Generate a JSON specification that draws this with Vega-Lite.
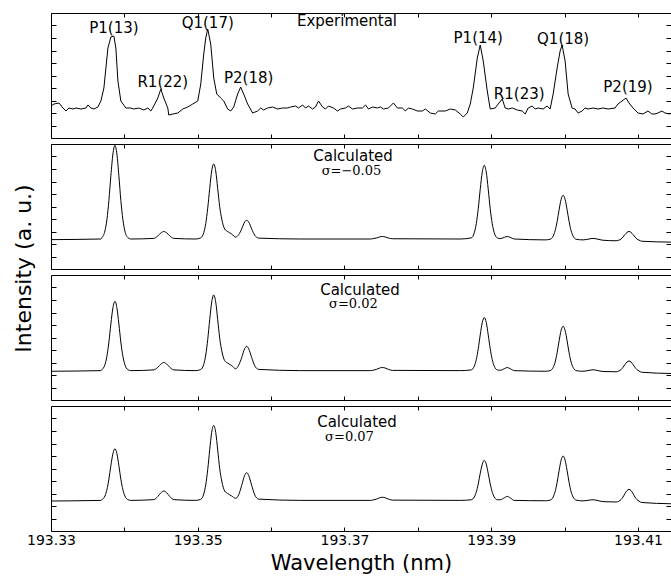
{
  "$schema": "https://vega.github.io/schema/vega-lite/v6.json",
  "padding": {"left": 11, "top": 12, "right": 0, "bottom": 0},
  "background": "white",
  "bounds": "flush",
  "config": {
    "view": {"stroke": "black", "strokeWidth": 1},
    "axis": {"tickColor": "black", "tickWidth": 1, "domain": false, "grid": false}
  },
  "spacing": 6,
  "datasets": {
    "exp": [
      {"wl":193.33000,"i":2.56},{"wl":193.33041,"i":2.72},{"wl":193.33109,"i":2.80},{"wl":193.33163,"i":2.40},{"wl":193.33204,"i":2.16},{"wl":193.33245,"i":2.40},{"wl":193.33299,"i":2.32},{"wl":193.33340,"i":2.40},{"wl":193.33408,"i":2.32},{"wl":193.33476,"i":2.40},{"wl":193.33503,"i":2.64},{"wl":193.33544,"i":2.40},{"wl":193.33585,"i":2.32},{"wl":193.33639,"i":2.48},{"wl":193.33680,"i":2.96},{"wl":193.33721,"i":4.00},{"wl":193.33776,"i":7.20},{"wl":193.33816,"i":8.08},{"wl":193.33857,"i":8.16},{"wl":193.33884,"i":7.20},{"wl":193.33912,"i":4.56},{"wl":193.33952,"i":2.96},{"wl":193.34020,"i":2.40},{"wl":193.34088,"i":2.40},{"wl":193.34129,"i":2.32},{"wl":193.34197,"i":2.40},{"wl":193.34265,"i":2.24},{"wl":193.34320,"i":2.40},{"wl":193.34361,"i":2.16},{"wl":193.34401,"i":2.56},{"wl":193.34456,"i":3.20},{"wl":193.34497,"i":3.92},{"wl":193.34537,"i":3.20},{"wl":193.34592,"i":2.40},{"wl":193.34605,"i":1.84},{"wl":193.34660,"i":1.92},{"wl":193.34728,"i":2.00},{"wl":193.34796,"i":2.32},{"wl":193.34864,"i":2.48},{"wl":193.34932,"i":2.72},{"wl":193.35000,"i":2.96},{"wl":193.35041,"i":4.32},{"wl":193.35082,"i":6.72},{"wl":193.35109,"i":8.00},{"wl":193.35136,"i":8.72},{"wl":193.35177,"i":7.52},{"wl":193.35218,"i":4.80},{"wl":193.35259,"i":3.52},{"wl":193.35313,"i":3.20},{"wl":193.35354,"i":2.96},{"wl":193.35408,"i":2.32},{"wl":193.35449,"i":2.16},{"wl":193.35490,"i":2.48},{"wl":193.35544,"i":3.52},{"wl":193.35585,"i":4.08},{"wl":193.35626,"i":3.52},{"wl":193.35680,"i":2.72},{"wl":193.35748,"i":2.00},{"wl":193.35816,"i":2.16},{"wl":193.35857,"i":2.40},{"wl":193.35898,"i":2.24},{"wl":193.35952,"i":2.40},{"wl":193.36020,"i":2.48},{"wl":193.36088,"i":2.32},{"wl":193.36156,"i":2.40},{"wl":193.36224,"i":2.40},{"wl":193.36265,"i":2.48},{"wl":193.36333,"i":2.56},{"wl":193.36374,"i":2.40},{"wl":193.36429,"i":2.64},{"wl":193.36469,"i":2.40},{"wl":193.36510,"i":2.56},{"wl":193.36565,"i":2.32},{"wl":193.36605,"i":2.48},{"wl":193.36646,"i":2.96},{"wl":193.36701,"i":2.48},{"wl":193.36741,"i":2.32},{"wl":193.36782,"i":2.56},{"wl":193.36850,"i":2.40},{"wl":193.36905,"i":2.16},{"wl":193.36946,"i":2.32},{"wl":193.37014,"i":2.40},{"wl":193.37054,"i":2.56},{"wl":193.37109,"i":2.32},{"wl":193.37177,"i":2.40},{"wl":193.37245,"i":2.40},{"wl":193.37286,"i":2.64},{"wl":193.37327,"i":2.32},{"wl":193.37381,"i":2.48},{"wl":193.37449,"i":2.40},{"wl":193.37490,"i":2.48},{"wl":193.37531,"i":2.32},{"wl":193.37599,"i":2.40},{"wl":193.37667,"i":2.80},{"wl":193.37721,"i":2.40},{"wl":193.37789,"i":2.40},{"wl":193.37830,"i":2.16},{"wl":193.37871,"i":2.40},{"wl":193.37925,"i":2.32},{"wl":193.37993,"i":2.16},{"wl":193.38061,"i":2.16},{"wl":193.38102,"i":2.32},{"wl":193.38170,"i":2.00},{"wl":193.38238,"i":1.92},{"wl":193.38279,"i":2.16},{"wl":193.38374,"i":2.16},{"wl":193.38442,"i":2.32},{"wl":193.38510,"i":2.24},{"wl":193.38578,"i":1.92},{"wl":193.38619,"i":1.68},{"wl":193.38673,"i":2.00},{"wl":193.38714,"i":2.72},{"wl":193.38755,"i":4.00},{"wl":193.38810,"i":6.40},{"wl":193.38850,"i":7.44},{"wl":193.38891,"i":6.16},{"wl":193.38946,"i":3.76},{"wl":193.38986,"i":2.32},{"wl":193.39054,"i":2.40},{"wl":193.39095,"i":2.72},{"wl":193.39150,"i":3.12},{"wl":193.39190,"i":2.40},{"wl":193.39231,"i":2.32},{"wl":193.39286,"i":2.40},{"wl":193.39354,"i":2.24},{"wl":193.39422,"i":2.16},{"wl":193.39463,"i":1.92},{"wl":193.39503,"i":2.40},{"wl":193.39558,"i":2.56},{"wl":193.39599,"i":2.32},{"wl":193.39639,"i":2.40},{"wl":193.39707,"i":2.32},{"wl":193.39762,"i":2.56},{"wl":193.39803,"i":2.32},{"wl":193.39844,"i":3.52},{"wl":193.39898,"i":5.60},{"wl":193.39939,"i":6.96},{"wl":193.39966,"i":7.44},{"wl":193.40007,"i":6.16},{"wl":193.40048,"i":3.52},{"wl":193.40102,"i":2.40},{"wl":193.40143,"i":2.32},{"wl":193.40184,"i":2.00},{"wl":193.40238,"i":2.16},{"wl":193.40279,"i":2.40},{"wl":193.40320,"i":2.32},{"wl":193.40388,"i":2.40},{"wl":193.40456,"i":2.32},{"wl":193.40524,"i":2.40},{"wl":193.40592,"i":2.32},{"wl":193.40687,"i":2.40},{"wl":193.40728,"i":2.72},{"wl":193.40782,"i":2.96},{"wl":193.40837,"i":3.20},{"wl":193.40878,"i":2.80},{"wl":193.40932,"i":2.40},{"wl":193.41000,"i":2.00},{"wl":193.41068,"i":1.92},{"wl":193.41136,"i":2.16},{"wl":193.41190,"i":1.92},{"wl":193.41231,"i":1.92},{"wl":193.41272,"i":2.00},{"wl":193.41327,"i":2.16},{"wl":193.41367,"i":2.00},{"wl":193.41435,"i":1.92}
    ],
    "calc": [
      {"wl":193.33000,"a":2.35,"b":2.30,"c":2.40},
      {"wl":193.33680,"a":2.40,"b":2.35,"c":2.45},
      {"wl":193.33694,"a":2.51,"b":2.43,"c":2.51},
      {"wl":193.33735,"a":3.04,"b":2.82,"c":2.80},
      {"wl":193.33762,"a":3.95,"b":3.49,"c":3.30},
      {"wl":193.33789,"a":5.48,"b":4.63,"c":4.15},
      {"wl":193.33816,"a":7.46,"b":6.09,"c":5.23},
      {"wl":193.33844,"a":9.20,"b":7.38,"c":6.19},
      {"wl":193.33871,"a":9.90,"b":7.90,"c":6.58},
      {"wl":193.33898,"a":9.20,"b":7.38,"c":6.19},
      {"wl":193.33925,"a":7.46,"b":6.09,"c":5.23},
      {"wl":193.33952,"a":5.48,"b":4.63,"c":4.15},
      {"wl":193.33980,"a":3.95,"b":3.49,"c":3.30},
      {"wl":193.34007,"a":3.04,"b":2.82,"c":2.80},
      {"wl":193.34048,"a":2.51,"b":2.43,"c":2.51},
      {"wl":193.34088,"a":2.40,"b":2.35,"c":2.45},
      {"wl":193.34401,"a":2.45,"b":2.41,"c":2.51},
      {"wl":193.34456,"a":2.65,"b":2.62,"c":2.76},
      {"wl":193.34497,"a":2.88,"b":2.87,"c":3.05},
      {"wl":193.34537,"a":3.00,"b":3.00,"c":3.20},
      {"wl":193.34578,"a":2.88,"b":2.87,"c":3.05},
      {"wl":193.34619,"a":2.65,"b":2.62,"c":2.76},
      {"wl":193.34673,"a":2.45,"b":2.41,"c":2.51},
      {"wl":193.34973,"a":2.40,"b":2.35,"c":2.45},
      {"wl":193.35041,"a":2.49,"b":2.44,"c":2.54},
      {"wl":193.35082,"a":2.91,"b":2.86,"c":2.96},
      {"wl":193.35109,"a":3.64,"b":3.60,"c":3.69},
      {"wl":193.35136,"a":4.87,"b":4.84,"c":4.92},
      {"wl":193.35163,"a":6.44,"b":6.43,"c":6.49},
      {"wl":193.35190,"a":7.84,"b":7.83,"c":7.89},
      {"wl":193.35218,"a":8.40,"b":8.40,"c":8.45},
      {"wl":193.35245,"a":7.84,"b":7.83,"c":7.89},
      {"wl":193.35272,"a":6.44,"b":6.43,"c":6.49},
      {"wl":193.35299,"a":5.00,"b":4.95,"c":5.00},
      {"wl":193.35327,"a":4.00,"b":3.95,"c":4.00},
      {"wl":193.35367,"a":3.20,"b":3.15,"c":3.20},
      {"wl":193.35408,"a":3.00,"b":2.95,"c":3.00},
      {"wl":193.35463,"a":2.80,"b":2.75,"c":2.80},
      {"wl":193.35517,"a":2.55,"b":2.50,"c":2.62},
      {"wl":193.35558,"a":2.75,"b":2.78,"c":2.90},
      {"wl":193.35599,"a":3.21,"b":3.40,"c":3.65},
      {"wl":193.35639,"a":3.76,"b":4.10,"c":4.45},
      {"wl":193.35667,"a":3.90,"b":4.30,"c":4.67},
      {"wl":193.35694,"a":3.76,"b":4.10,"c":4.45},
      {"wl":193.35735,"a":3.21,"b":3.40,"c":3.65},
      {"wl":193.35776,"a":2.71,"b":2.75,"c":2.90},
      {"wl":193.35830,"a":2.47,"b":2.45,"c":2.55},
      {"wl":193.36401,"a":2.40,"b":2.35,"c":2.45},
      {"wl":193.37354,"a":2.40,"b":2.35,"c":2.45},
      {"wl":193.37381,"a":2.42,"b":2.37,"c":2.47},
      {"wl":193.37435,"a":2.48,"b":2.45,"c":2.55},
      {"wl":193.37476,"a":2.56,"b":2.55,"c":2.65},
      {"wl":193.37517,"a":2.60,"b":2.60,"c":2.70},
      {"wl":193.37558,"a":2.56,"b":2.55,"c":2.65},
      {"wl":193.37599,"a":2.48,"b":2.45,"c":2.55},
      {"wl":193.37653,"a":2.42,"b":2.37,"c":2.47},
      {"wl":193.38578,"a":2.40,"b":2.35,"c":2.45},
      {"wl":193.38728,"a":2.49,"b":2.41,"c":2.50},
      {"wl":193.38769,"a":2.90,"b":2.71,"c":2.72},
      {"wl":193.38796,"a":3.62,"b":3.23,"c":3.11},
      {"wl":193.38823,"a":4.82,"b":4.10,"c":3.77},
      {"wl":193.38850,"a":6.38,"b":5.21,"c":4.61},
      {"wl":193.38878,"a":7.75,"b":6.20,"c":5.35},
      {"wl":193.38905,"a":8.30,"b":6.60,"c":5.65},
      {"wl":193.38932,"a":7.75,"b":6.20,"c":5.35},
      {"wl":193.38959,"a":6.38,"b":5.21,"c":4.61},
      {"wl":193.38986,"a":4.82,"b":4.10,"c":3.77},
      {"wl":193.39014,"a":3.62,"b":3.23,"c":3.11},
      {"wl":193.39041,"a":2.90,"b":2.71,"c":2.72},
      {"wl":193.39082,"a":2.49,"b":2.41,"c":2.50},
      {"wl":193.39122,"a":2.43,"b":2.38,"c":2.50},
      {"wl":193.39177,"a":2.53,"b":2.50,"c":2.65},
      {"wl":193.39218,"a":2.60,"b":2.60,"c":2.77},
      {"wl":193.39259,"a":2.53,"b":2.50,"c":2.65},
      {"wl":193.39313,"a":2.40,"b":2.35,"c":2.45},
      {"wl":193.39735,"a":2.33,"b":2.30,"c":2.42},
      {"wl":193.39803,"a":2.38,"b":2.35,"c":2.47},
      {"wl":193.39844,"a":2.63,"b":2.61,"c":2.72},
      {"wl":193.39871,"a":3.07,"b":3.04,"c":3.16},
      {"wl":193.39898,"a":3.80,"b":3.78,"c":3.89},
      {"wl":193.39925,"a":4.74,"b":4.73,"c":4.83},
      {"wl":193.39952,"a":5.56,"b":5.56,"c":5.66},
      {"wl":193.39980,"a":5.90,"b":5.90,"c":6.00},
      {"wl":193.40007,"a":5.56,"b":5.56,"c":5.66},
      {"wl":193.40034,"a":4.74,"b":4.73,"c":4.83},
      {"wl":193.40061,"a":3.80,"b":3.78,"c":3.89},
      {"wl":193.40088,"a":3.07,"b":3.04,"c":3.16},
      {"wl":193.40116,"a":2.63,"b":2.61,"c":2.72},
      {"wl":193.40156,"a":2.38,"b":2.35,"c":2.47},
      {"wl":193.40252,"a":2.33,"b":2.30,"c":2.41},
      {"wl":193.40333,"a":2.40,"b":2.37,"c":2.47},
      {"wl":193.40388,"a":2.45,"b":2.42,"c":2.50},
      {"wl":193.40442,"a":2.40,"b":2.37,"c":2.45},
      {"wl":193.40524,"a":2.30,"b":2.28,"c":2.35},
      {"wl":193.40701,"a":2.26,"b":2.26,"c":2.32},
      {"wl":193.40741,"a":2.31,"b":2.32,"c":2.39},
      {"wl":193.40769,"a":2.40,"b":2.43,"c":2.51},
      {"wl":193.40796,"a":2.56,"b":2.61,"c":2.72},
      {"wl":193.40823,"a":2.76,"b":2.84,"c":3.00},
      {"wl":193.40850,"a":2.93,"b":3.04,"c":3.23},
      {"wl":193.40878,"a":3.00,"b":3.12,"c":3.33},
      {"wl":193.40905,"a":2.93,"b":3.04,"c":3.23},
      {"wl":193.40932,"a":2.76,"b":2.84,"c":3.00},
      {"wl":193.40959,"a":2.56,"b":2.61,"c":2.72},
      {"wl":193.40986,"a":2.40,"b":2.43,"c":2.51},
      {"wl":193.41014,"a":2.31,"b":2.32,"c":2.39},
      {"wl":193.41054,"a":2.22,"b":2.22,"c":2.28},
      {"wl":193.41449,"a":2.15,"b":2.12,"c":2.18}
    ],
    "notes": [
      {"panel":"e","kind":"head","wl":193.37034,"i":8.96,"text":"Experimental"},
      {"panel":"e","kind":"head","wl":193.33857,"i":8.40,"text":"P1(13)"},
      {"panel":"e","kind":"head","wl":193.34524,"i":4.08,"text":"R1(22)"},
      {"panel":"e","kind":"head","wl":193.35136,"i":8.80,"text":"Q1(17)"},
      {"panel":"e","kind":"head","wl":193.35694,"i":4.40,"text":"P2(18)"},
      {"panel":"e","kind":"head","wl":193.38823,"i":7.60,"text":"P1(14)"},
      {"panel":"e","kind":"head","wl":193.39381,"i":3.12,"text":"R1(23)"},
      {"panel":"e","kind":"head","wl":193.39980,"i":7.52,"text":"Q1(18)"},
      {"panel":"e","kind":"head","wl":193.40864,"i":3.68,"text":"P2(19)"},
      {"panel":"a","kind":"head","wl":193.37116,"i":8.68,"text":"Calculated"},
      {"panel":"a","kind":"sig","wl":193.37095,"i":7.56,"text":"σ=−0.05"},
      {"panel":"b","kind":"head","wl":193.37211,"i":8.44,"text":"Calculated"},
      {"panel":"b","kind":"sig","wl":193.37122,"i":7.38,"text":"σ=0.02"},
      {"panel":"c","kind":"head","wl":193.37170,"i":8.36,"text":"Calculated"},
      {"panel":"c","kind":"sig","wl":193.37068,"i":7.22,"text":"σ=0.07"}
    ]
  },
  "vconcat": [
    {
      "width": 620, "height": 125,
      "layer": [
        {
          "data": {"name": "exp"},
          "mark": {"type": "line", "color": "black", "strokeWidth": 1, "clip": true},
          "encoding": {
            "x": {"field": "wl", "type": "quantitative", "scale": {"domain": [193.33, 193.4145], "nice": false, "zero": false},
                  "axis": {"orient": "bottom", "values": [193.33,193.34,193.35,193.36,193.37,193.38,193.39,193.40,193.41], "tickSize": -4, "labels": false, "title": null}},
            "y": {"field": "i", "type": "quantitative", "scale": {"domain": [0, 10], "nice": false, "zero": false},
                  "axis": {"orient": "left", "values": [1,2,3,4,5,6,7,8,9], "tickSize": -5, "labels": false,
                           "title": "Intensity (a. u.)", "titleFont": "DejaVu Sans", "titleFontSize": 22, "titleFontWeight": "normal", "titleColor": "black",
                           "titleAngle": 270, "titleAlign": "center", "titleBaseline": "alphabetic", "titleX": -21, "titleY": 255}}
          }
        },
        {
          "data": {"name": "notes"},
          "transform": [{"filter": "datum.panel == 'e'"}],
          "mark": {"type": "text", "font": "DejaVu Sans", "fontSize": 15, "align": "center", "baseline": "alphabetic", "color": "black"},
          "encoding": {
            "x": {"field": "wl", "type": "quantitative", "scale": {"domain": [193.33, 193.4145], "nice": false, "zero": false},
                  "axis": {"orient": "top", "values": [193.33,193.34,193.35,193.36,193.37,193.38,193.39,193.40,193.41], "tickSize": -4, "labels": false, "title": null}},
            "y": {"field": "i", "type": "quantitative", "scale": {"domain": [0, 10], "nice": false, "zero": false},
                  "axis": {"orient": "right", "values": [1,2,3,4,5,6,7,8,9], "tickSize": -5, "labels": false, "title": null}},
            "text": {"field": "text"}
          }
        }
      ],
      "resolve": {"axis": {"x": "independent", "y": "independent"}}
    },
    {
      "width": 620, "height": 125,
      "layer": [
        {
          "data": {"name": "calc"},
          "mark": {"type": "line", "color": "black", "strokeWidth": 1, "interpolate": "monotone", "clip": true},
          "encoding": {
            "x": {"field": "wl", "type": "quantitative", "scale": {"domain": [193.33, 193.4145], "nice": false, "zero": false},
                  "axis": {"orient": "bottom", "values": [193.33,193.34,193.35,193.36,193.37,193.38,193.39,193.40,193.41], "tickSize": -4, "labels": false, "title": null}},
            "y": {"field": "a", "type": "quantitative", "scale": {"domain": [0, 10], "nice": false, "zero": false},
                  "axis": {"orient": "left", "values": [1,2,3,4,5,6,7,8,9], "tickSize": -5, "labels": false, "title": null}}
          }
        },
        {
          "data": {"name": "notes"},
          "transform": [{"filter": "datum.panel == 'a' && datum.kind == 'head'"}],
          "mark": {"type": "text", "font": "DejaVu Sans", "fontSize": 15, "align": "center", "baseline": "alphabetic", "color": "black"},
          "encoding": {
            "x": {"field": "wl", "type": "quantitative", "scale": {"domain": [193.33, 193.4145], "nice": false, "zero": false},
                  "axis": {"orient": "top", "values": [193.33,193.34,193.35,193.36,193.37,193.38,193.39,193.40,193.41], "tickSize": -4, "labels": false, "title": null}},
            "y": {"field": "i", "type": "quantitative", "scale": {"domain": [0, 10], "nice": false, "zero": false},
                  "axis": {"orient": "right", "values": [1,2,3,4,5,6,7,8,9], "tickSize": -5, "labels": false, "title": null}},
            "text": {"field": "text"}
          }
        },
        {
          "data": {"name": "notes"},
          "transform": [{"filter": "datum.panel == 'a' && datum.kind == 'sig'"}],
          "mark": {"type": "text", "font": "DejaVu Serif", "fontSize": 13, "align": "center", "baseline": "alphabetic", "color": "black"},
          "encoding": {
            "x": {"field": "wl", "type": "quantitative", "scale": {"domain": [193.33, 193.4145], "nice": false, "zero": false}, "axis": null},
            "y": {"field": "i", "type": "quantitative", "scale": {"domain": [0, 10], "nice": false, "zero": false}, "axis": null},
            "text": {"field": "text"}
          }
        }
      ],
      "resolve": {"axis": {"x": "independent", "y": "independent"}}
    },
    {
      "width": 620, "height": 125,
      "layer": [
        {
          "data": {"name": "calc"},
          "mark": {"type": "line", "color": "black", "strokeWidth": 1, "interpolate": "monotone", "clip": true},
          "encoding": {
            "x": {"field": "wl", "type": "quantitative", "scale": {"domain": [193.33, 193.4145], "nice": false, "zero": false},
                  "axis": {"orient": "bottom", "values": [193.33,193.34,193.35,193.36,193.37,193.38,193.39,193.40,193.41], "tickSize": -4, "labels": false, "title": null}},
            "y": {"field": "b", "type": "quantitative", "scale": {"domain": [0, 10], "nice": false, "zero": false},
                  "axis": {"orient": "left", "values": [1,2,3,4,5,6,7,8,9], "tickSize": -5, "labels": false, "title": null}}
          }
        },
        {
          "data": {"name": "notes"},
          "transform": [{"filter": "datum.panel == 'b' && datum.kind == 'head'"}],
          "mark": {"type": "text", "font": "DejaVu Sans", "fontSize": 15, "align": "center", "baseline": "alphabetic", "color": "black"},
          "encoding": {
            "x": {"field": "wl", "type": "quantitative", "scale": {"domain": [193.33, 193.4145], "nice": false, "zero": false},
                  "axis": {"orient": "top", "values": [193.33,193.34,193.35,193.36,193.37,193.38,193.39,193.40,193.41], "tickSize": -4, "labels": false, "title": null}},
            "y": {"field": "i", "type": "quantitative", "scale": {"domain": [0, 10], "nice": false, "zero": false},
                  "axis": {"orient": "right", "values": [1,2,3,4,5,6,7,8,9], "tickSize": -5, "labels": false, "title": null}},
            "text": {"field": "text"}
          }
        },
        {
          "data": {"name": "notes"},
          "transform": [{"filter": "datum.panel == 'b' && datum.kind == 'sig'"}],
          "mark": {"type": "text", "font": "DejaVu Serif", "fontSize": 13, "align": "center", "baseline": "alphabetic", "color": "black"},
          "encoding": {
            "x": {"field": "wl", "type": "quantitative", "scale": {"domain": [193.33, 193.4145], "nice": false, "zero": false}, "axis": null},
            "y": {"field": "i", "type": "quantitative", "scale": {"domain": [0, 10], "nice": false, "zero": false}, "axis": null},
            "text": {"field": "text"}
          }
        }
      ],
      "resolve": {"axis": {"x": "independent", "y": "independent"}}
    },
    {
      "width": 620, "height": 125,
      "layer": [
        {
          "data": {"name": "calc"},
          "mark": {"type": "line", "color": "black", "strokeWidth": 1, "interpolate": "monotone", "clip": true},
          "encoding": {
            "x": {"field": "wl", "type": "quantitative", "scale": {"domain": [193.33, 193.4145], "nice": false, "zero": false},
                  "axis": {"orient": "bottom", "values": [193.33,193.34,193.35,193.36,193.37,193.38,193.39,193.40,193.41], "tickSize": -4,
                           "labels": true, "labelExpr": "round(datum.value*100) % 2 == 1 ? format(datum.value, '.2f') : ''",
                           "labelFont": "DejaVu Sans", "labelFontSize": 14, "labelColor": "black", "labelPadding": 6, "labelFlush": false, "labelOverlap": false,
                           "title": "Wavelength (nm)", "titleFont": "DejaVu Sans", "titleFontSize": 21, "titleFontWeight": "normal", "titleColor": "black",
                           "titleBaseline": "alphabetic", "titleY": 38}},
            "y": {"field": "c", "type": "quantitative", "scale": {"domain": [0, 10], "nice": false, "zero": false},
                  "axis": {"orient": "left", "values": [1,2,3,4,5,6,7,8,9], "tickSize": -5, "labels": false, "title": null}}
          }
        },
        {
          "data": {"name": "notes"},
          "transform": [{"filter": "datum.panel == 'c' && datum.kind == 'head'"}],
          "mark": {"type": "text", "font": "DejaVu Sans", "fontSize": 15, "align": "center", "baseline": "alphabetic", "color": "black"},
          "encoding": {
            "x": {"field": "wl", "type": "quantitative", "scale": {"domain": [193.33, 193.4145], "nice": false, "zero": false},
                  "axis": {"orient": "top", "values": [193.33,193.34,193.35,193.36,193.37,193.38,193.39,193.40,193.41], "tickSize": -4, "labels": false, "title": null}},
            "y": {"field": "i", "type": "quantitative", "scale": {"domain": [0, 10], "nice": false, "zero": false},
                  "axis": {"orient": "right", "values": [1,2,3,4,5,6,7,8,9], "tickSize": -5, "labels": false, "title": null}},
            "text": {"field": "text"}
          }
        },
        {
          "data": {"name": "notes"},
          "transform": [{"filter": "datum.panel == 'c' && datum.kind == 'sig'"}],
          "mark": {"type": "text", "font": "DejaVu Serif", "fontSize": 13, "align": "center", "baseline": "alphabetic", "color": "black"},
          "encoding": {
            "x": {"field": "wl", "type": "quantitative", "scale": {"domain": [193.33, 193.4145], "nice": false, "zero": false}, "axis": null},
            "y": {"field": "i", "type": "quantitative", "scale": {"domain": [0, 10], "nice": false, "zero": false}, "axis": null},
            "text": {"field": "text"}
          }
        }
      ],
      "resolve": {"axis": {"x": "independent", "y": "independent"}}
    }
  ]
}
